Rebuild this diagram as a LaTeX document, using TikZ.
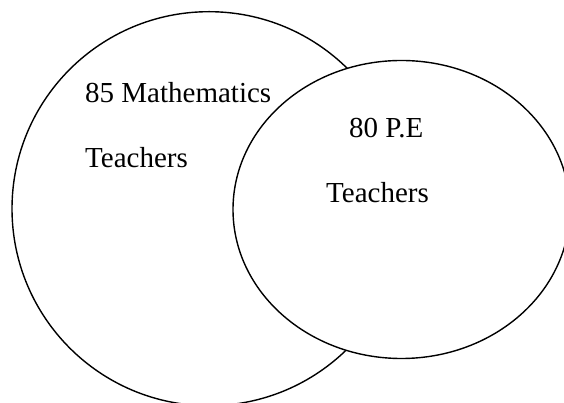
\documentclass[tikz,border=0pt]{standalone}
\usepackage{fontspec}
\setmainfont{Liberation Serif}
\begin{document}
\begin{tikzpicture}[x=1pt,y=1pt,
  setline/.style={line width=1.4pt, draw=black},
  lbl/.style={anchor=base west, inner sep=0pt, font=\fontsize{29}{34}\selectfont}]
\useasboundingbox (0,0) rectangle (564,403);
\clip (0,0) rectangle (564,403);
\draw[setline] (209,194.3) circle [radius=197];
\draw[setline, fill=white] (401.4,193.5) ellipse [x radius=168.4, y radius=149];
\node[lbl] (m1) at (85,300) {85 Mathematics};
\node[lbl] (m2) at (85,235) {Teachers};
\node[lbl] (p1) at (349,265) {80 P.E};
\node[lbl] (p2) at (326,200.5) {Teachers};
\end{tikzpicture}
\end{document}
